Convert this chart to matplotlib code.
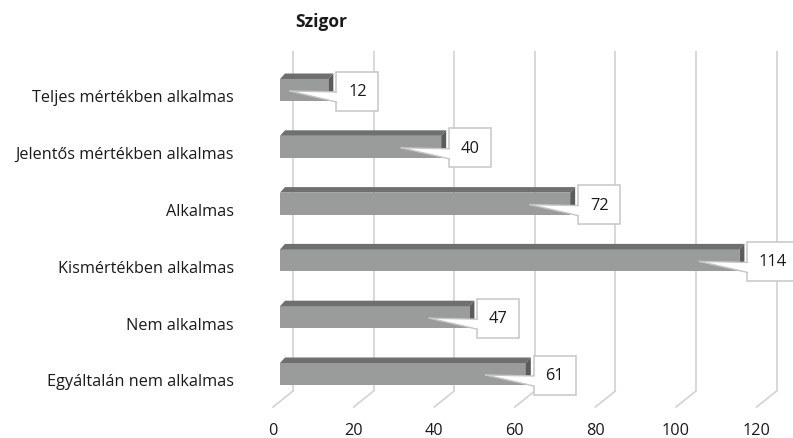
import numpy as np
import matplotlib.pyplot as plt
from matplotlib.patches import Polygon, Rectangle

categories = ['Egyáltalán nem alkalmas', 'Nem alkalmas', 'Kismértékben alkalmas',
              'Alkalmas', 'Jelentős mértékben alkalmas', 'Teljes mértékben alkalmas']
values = [61, 47, 114, 72, 40, 12]
ticks = [0, 20, 40, 60, 80, 100, 120]
title = 'Szigor'

plt.rcParams['font.family'] = ['Open Sans', 'DejaVu Sans']

W, H = 793, 439
fig = plt.figure(figsize=(W / 100, H / 100), dpi=100)
ax = fig.add_axes([0, 0, 1, 1])

# pixel layout -> data units
x0_px, pxu = 280, 4.03        # value 0 on the bar front face, px per unit
y0_px, pyu = 375, 56.8        # first bar centre, px per category
ax.set_xlim(-x0_px / pxu, (W - x0_px) / pxu)
ax.set_ylim(-(H - y0_px) / pyu, y0_px / pyu)
ax.axis('off')

def px_x(p):
    return p / pxu

def px_y(p):
    return p / pyu

front = '#9a9c9c'
top = '#6e7070'
side = '#5a5c5c'
grid_c = '#d2d2d2'
txt = '#1a1a1a'

# back wall gridlines with a slanted floor stub
g_top = (y0_px - 52) / pyu
g_bot = (y0_px - 392) / pyu
g_front = (y0_px - 408) / pyu
for t in ticks:
    xb = t + px_x(13)
    xf = t - px_x(7)
    ax.plot([xb, xb], [g_top, g_bot], color=grid_c, lw=1.2, zorder=1,
            solid_capstyle='butt')
    ax.plot([xb, xf], [g_bot, g_front], color=grid_c, lw=1.2, zorder=1)
    ax.text(xf, (y0_px - 431) / pyu, str(t), ha='center', va='center',
            fontsize=11.7, color=txt)

# 3D bars
y = np.arange(len(categories))
h = px_y(22)
dx, dy = px_x(5), px_y(5.5)
ax.barh(y, values, height=h, color=front, zorder=3)
for yi, v in zip(y, values):
    yt, yb = yi + h / 2, yi - h / 2
    ax.add_patch(Polygon([(0, yt), (v, yt), (v + dx, yt + dy), (dx, yt + dy)],
                         closed=True, facecolor=top, edgecolor='none', zorder=3))
    ax.add_patch(Polygon([(v, yb), (v, yt), (v + dx, yt + dy), (v + dx, yb + dy)],
                         closed=True, facecolor=side, edgecolor='none', zorder=3))

    # callout
    label = str(v)
    bw = px_x(42 if len(label) < 3 else 50)
    bh = px_y(39)
    bx = v + px_x(8)
    by = yi - px_y(1)
    ax.add_patch(Rectangle((bx, by - bh / 2), bw, bh, facecolor='white',
                           edgecolor='#c6c6c6', lw=1.1, zorder=5))
    tipx = max(v - px_x(40), px_x(10))
    tipy = yi - px_y(1)
    b1 = by - px_y(1)
    b2 = by - px_y(11)
    ax.add_patch(Polygon([(tipx, tipy), (bx + px_x(1.5), b1), (bx + px_x(1.5), b2)],
                         closed=True, facecolor='white', edgecolor='none', zorder=6))
    ax.plot([tipx, bx], [tipy, b1], color='#c6c6c6', lw=1.0, zorder=6)
    ax.plot([tipx, bx], [tipy, b2], color='#c6c6c6', lw=1.0, zorder=6)
    ax.text(bx + bw / 2, by, label, ha='center', va='center', fontsize=11.8,
            color=txt, zorder=7)

    # category label
    ax.text(-px_x(46), yi - px_y(7.5), categories[yi], ha='right', va='center',
            fontsize=11.7, color=txt)

ax.text(px_x(15), (y0_px - 22) / pyu, title, ha='left', va='center',
        fontsize=12.5, fontweight='bold', color=txt)

fig.savefig('out.png', dpi=100)
